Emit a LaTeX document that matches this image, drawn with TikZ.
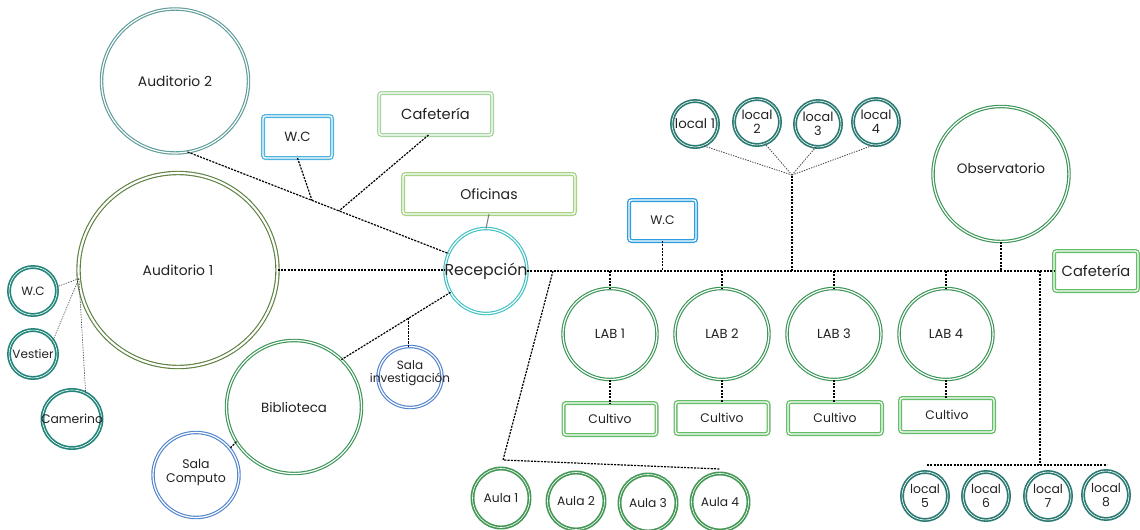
\documentclass[tikz,border=0pt]{standalone}
\usepackage{fontspec}
\setmainfont{Poppins}
\usetikzlibrary{shapes.geometric,calc}
\newcommand\fsz[1]{\fontsize{#1}{#1}\selectfont}
\definecolor{txt}{HTML}{222222}
\definecolor{cTealGray}{HTML}{5E9C9A}
\definecolor{cOlive}{HTML}{5E8040}
\definecolor{cSky}{HTML}{4DB4E0}
\definecolor{cSky2}{HTML}{2F9EE0}
\definecolor{cPale}{HTML}{A8D6A2}
\definecolor{cLime}{HTML}{A6D384}
\definecolor{cTurq}{HTML}{3EC0C2}
\definecolor{cGreen}{HTML}{3A9556}
\definecolor{cBlue}{HTML}{5284CC}
\definecolor{cDTeal}{HTML}{22857A}
\definecolor{cLocal}{HTML}{2A7A72}
\definecolor{cGreen2}{HTML}{66BD68}
\definecolor{cAula}{HTML}{449856}
\tikzset{
  every label/.style={align=center, text=txt, font=\fsz{10.4}, inner sep=0pt},
  ring/.style={ellipse, draw=#1, line width=0.85pt, double=white, double distance=0.9pt, inner sep=0pt, outer sep=0pt},
  thickring/.style={ellipse, draw=#1, line width=1.25pt, double=white, double distance=0.45pt, inner sep=0pt, outer sep=0pt},
  box/.style={rectangle, rounded corners=2pt, draw=#1, line width=1pt, double=white, double distance=1pt, inner sep=0pt, outer sep=0pt},
  sz/.style 2 args={minimum width=#1*0.75pt, minimum height=#2*0.75pt},
  txtl/.style 2 args={label={[font=\fsz{#1}]center:#2}},
  link/.style={line width=0.9pt, dash pattern=on 1.6pt off 0.9pt},
  thinlink/.style={line width=0.45pt, dash pattern=on 1pt off 0.9pt, black!75},
  solidlink/.style={line width=0.8pt, gray},
}
\begin{document}
\begin{tikzpicture}[x=0.75pt, y=-0.75pt]
\useasboundingbox (0,0) rectangle (1140,529);
% left cluster
\node[ring=cTealGray, sz={147}{144}, txtl={10.4}{Auditorio 2}] (aud2) at (175,81) {};
\node[ring=cOlive, double distance=1.6pt, sz={199}{194}, txtl={10.4}{Auditorio 1}] (aud1) at (178,270) {};
\node[box=cSky, sz={69}{42}, txtl={10}{W.C}] (wcA) at (297.5,137) {};
\node[box=cPale, sz={113}{42}, txtl={11}{Cafetería}] (cafA) at (435.5,114) {};
\node[box=cLime, sz={172}{40}, txtl={10.6}{Oficinas}] (ofi) at (489,194) {};
\node[ring=cTurq, sz={82}{85}, txtl={11.8}{Recepción}] (rec) at (486,271) {};
\node[ring=cGreen, sz={135}{133}, txtl={10}{Biblioteca}] (bib) at (294,407) {};
\node[ring=cBlue, sz={64}{61}, label={[font=\fsz{9}, yshift=3pt]center:Sala\\[1pt]investigación}] (sinv) at (410,377) {};
\node[ring=cBlue, sz={86}{85}, label={[font=\fsz{9.4}, yshift=2pt]center:Sala\\[1pt]Computo}] (scomp) at (196,475) {};
\node[thickring=cDTeal, sz={48}{48}, txtl={9}{W.C}] (wcB) at (33,291) {};
\node[thickring=cDTeal, sz={48}{48}, txtl={9}{Vestier}] (vest) at (33,354) {};
\node[thickring=cDTeal, sz={59}{58}, txtl={9.3}{Camerino}] (cam) at (72,419) {};
% right cluster
\node[box=cSky2, sz={67}{41}, txtl={9.3}{W.C}] (wcC) at (662.5,220.5) {};
\node[thickring=cLocal, sz={46}{46}, txtl={10}{local 1}] (loc1) at (695,124) {};
\node[thickring=cLocal, sz={46}{46}, label={[font=\fsz{9.6}]center:local\\[1pt]2}] (loc2) at (757,122) {};
\node[thickring=cLocal, sz={46}{46}, label={[font=\fsz{9.6}]center:local\\[1pt]3}] (loc3) at (818,124) {};
\node[thickring=cLocal, sz={46}{46}, label={[font=\fsz{9.6}]center:local\\[1pt]4}] (loc4) at (876,122) {};
\node[ring=cGreen, sz={136}{135}, label={[font=\fsz{10.2}, yshift=4pt]center:Observatorio}] (obs) at (1001,174) {};
\node[box=cGreen2, sz={84}{40}, txtl={11}{Cafetería}] (cafB) at (1096,271) {};
\foreach \i/\x in {1/610,2/722,3/834,4/946}{
  \node[ring=cGreen, sz={94}{91}, txtl={9.8}{LAB \i}] (lab\i) at (\x,334) {};
}
\node[box=cGreen2, sz={93}{32}, txtl={9.3}{Cultivo}] (cult1) at (610,419) {};
\node[box=cGreen2, sz={93}{32}, txtl={9.3}{Cultivo}] (cult2) at (722,418) {};
\node[box=cGreen2, sz={94}{32}, txtl={9.3}{Cultivo}] (cult3) at (835,418) {};
\node[box=cGreen2, sz={94}{34}, txtl={9.3}{Cultivo}] (cult4) at (947,415) {};
\node[thickring=cAula, sz={57}{59}, txtl={9.2}{Aula 1}] (aula1) at (501,498) {};
\node[thickring=cAula, sz={57}{57}, txtl={9.2}{Aula 2}] (aula2) at (576,501) {};
\node[thickring=cAula, sz={57}{57}, txtl={9.2}{Aula 3}] (aula3) at (648,503) {};
\node[thickring=cAula, sz={57}{57}, txtl={9.2}{Aula 4}] (aula4) at (720,502) {};
\node[thickring=cLocal, sz={46}{48}, label={[font=\fsz{9.3}]center:local\\[1pt]5}] (loc5) at (925,496) {};
\node[thickring=cLocal, sz={46}{48}, label={[font=\fsz{9.3}]center:local\\[1pt]6}] (loc6) at (986,496) {};
\node[thickring=cLocal, sz={46}{48}, label={[font=\fsz{9.3}]center:local\\[1pt]7}] (loc7) at (1048,496) {};
\node[thickring=cLocal, sz={46}{48}, label={[font=\fsz{9.3}]center:local\\[1pt]8}] (loc8) at (1106,495) {};
% junction coordinates
\coordinate (jA) at ($(aud2.-80)!0.477!(rec.155)$);
\coordinate (jB) at ($(aud2.-80)!0.58!(rec.155)$);
\coordinate (jC) at ($(rec.211)!0.383!(bib.45)$);
\coordinate (hub) at (792,175);
\coordinate (hubBase) at (792,271);
\coordinate (aulaTop) at (553,271);
\coordinate (aulaL) at (503,460);
\coordinate (aulaR) at (720,469);
\coordinate (locTop) at (1040,271);
\coordinate (locMid) at (1040,465);
\coordinate (locL) at (927,465);
\coordinate (locR) at (1107,465);
% connectors left
\draw[link] (aud1.east) -- (aud1.east -| rec.west);
\draw[link] (aud2.-80) -- (rec.155);
\draw[link] (wcA.south) -- (jA);
\draw[link] ($(cafA.south)+(-7,0)$) -- (jB);
\draw[solidlink] (ofi.south) -- (rec.north);
\draw[link] (rec.211) -- (bib.45);
\draw[link] (jC) -- (jC |- sinv.north);
\draw[link] (bib.211) -- (scomp.38);
\draw[thinlink] (aud1.185) -- (wcB.10);
\draw[thinlink] (aud1.185) -- (vest.34);
\draw[thinlink] (aud1.185) -- (cam.62);
% connectors right
\draw[link] (rec.east) -- (cafB.west);
\draw[link] (wcC.south) -- (wcC.south |- rec.east);
\draw[link] (hubBase) -- (hub);
\draw[thinlink, line width=0.6pt] (hub) -- (loc1.-70);
\draw[thinlink, line width=0.6pt] (hub) -- (loc2.-70);
\draw[thinlink, line width=0.6pt] (hub) -- (loc3.-95);
\draw[thinlink, line width=0.6pt] (hub) -- (loc4.-95);
\draw[link] (obs.south) -- (obs.south |- rec.east);
\foreach \i in {1,2,3,4}{
  \draw[link] (lab\i.north |- rec.east) -- (lab\i.north);
  \draw[link] (lab\i.south) -- (lab\i.south |- cult\i.north);
}
\draw[link] (aulaTop) -- (aulaL) -- (aulaR);
\draw[link] (locTop) -- (locMid);
\draw[link] (locL) -- (locR);
\end{tikzpicture}
\end{document}
